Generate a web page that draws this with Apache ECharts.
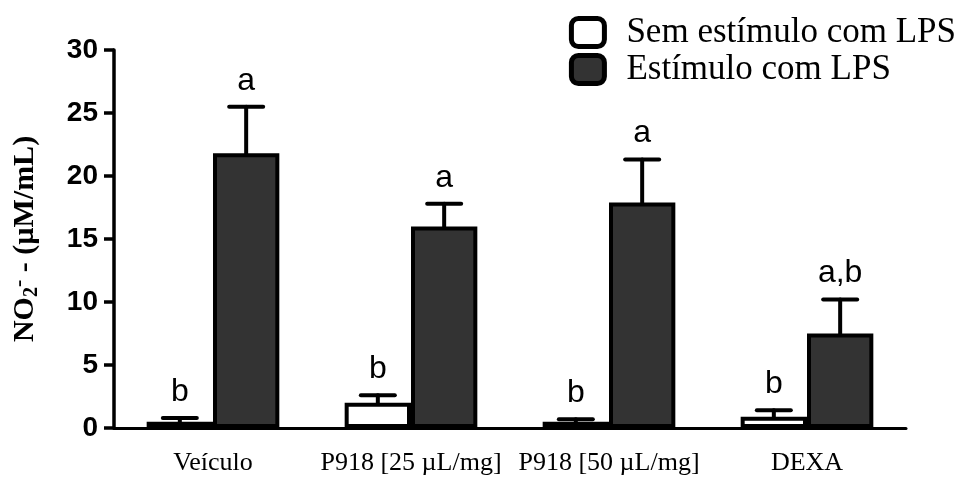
<!DOCTYPE html>
<html>
<head>
<meta charset="utf-8">
<script src="https://cdn.jsdelivr.net/npm/echarts@6/dist/echarts.min.js"></script>
<style>
  html, body { margin: 0; padding: 0; background: #fff; }
  #chart { width: 965px; height: 479px; }
</style>
</head>
<body>
<div id="chart"></div>
<script>
// dados
var categories = ['Veículo', 'P918 [25 µL/mg]', 'P918 [50 µL/mg]', 'DEXA']
var semLps = [0.5, 2.0, 0.5, 0.9]
var semLpsErr = [0.3, 0.6, 0.2, 0.5]
var semLpsLetters = ['b', 'b', 'b', 'b']
var comLps = [21.8, 16.0, 17.9, 7.5]
var comLpsErr = [3.7, 1.8, 3.4, 2.7]
var comLpsLetters = ['a', 'a', 'a', 'a,b']
var yTicks = [0, 5, 10, 15, 20, 25, 30]

var catGap = 0.33

function errorSeries (name, values, errs, letters, side) {
  return {
    name: name + '_err',
    type: 'custom',
    z: 10,
    silent: true,
    data: values.map(function (v, i) { return [i, v, v + errs[i], letters[i]] }),
    renderItem: function (params, api) {
      var band = api.size([1, 0])[0]
      var barW = band * (1 - catGap) / 2
      var base = api.coord([api.value(0), api.value(1)])
      var top = api.coord([api.value(0), api.value(2)])
      var x = base[0] + side * barW / 2
      var capHalf = 17
      var style = { stroke: '#000', lineWidth: 4, lineCap: 'round' }
      return {
        type: 'group',
        children: [
          { type: 'line', shape: { x1: x, y1: base[1], x2: x, y2: top[1] }, style: style },
          { type: 'line', shape: { x1: x - capHalf, y1: top[1], x2: x + capHalf, y2: top[1] }, style: style },
          {
            type: 'text',
            x: x,
            y: top[1] - 10,
            style: {
              text: api.value(3),
              fill: '#000',
              font: '32px "Liberation Sans", Arial, sans-serif',
              textAlign: 'center',
              textVerticalAlign: 'bottom'
            }
          }
        ]
      }
    }
  }
}

var myChart = echarts.init(document.getElementById('chart'))
var option = {
  animation: false,
  grid: { left: 114, right: 59, top: 50, bottom: 51, containLabel: false },
  legend: {
    orient: 'vertical',
    right: 4,
    top: 10,
    itemWidth: 33,
    itemHeight: 28,
    itemGap: 2,
    icon: 'roundRect',
    data: ['Sem estímulo com LPS', 'Estímulo com LPS'],
    itemStyle: { borderColor: '#000', borderWidth: 5 },
    textStyle: {
      fontFamily: '"Liberation Serif", "Times New Roman", serif',
      fontSize: 35,
      color: '#000',
      padding: [0, 0, 0, 17]
    }
  },
  xAxis: {
    type: 'category',
    data: categories,
    axisTick: { show: false },
    axisLine: { lineStyle: { color: '#000', width: 3 } },
    axisLabel: {
      interval: 0,
      margin: 22,
      color: '#000',
      fontSize: 26,
      fontFamily: '"Liberation Serif", "Times New Roman", serif'
    }
  },
  yAxis: {
    type: 'value',
    min: yTicks[0],
    max: yTicks[yTicks.length - 1],
    interval: 5,
    splitLine: { show: false },
    axisLine: { show: true, lineStyle: { color: '#000', width: 3.5 } },
    axisTick: { show: true, length: 10, lineStyle: { color: '#000', width: 3.5 } },
    axisLabel: {
      margin: 16,
      color: '#000',
      fontSize: 28,
      fontWeight: 'bold',
      fontFamily: '"Liberation Sans", Arial, sans-serif'
    },
    name: 'NO{sub|2}{sup|-} - (µM/mL)',
    nameLocation: 'middle',
    nameGap: 72,
    nameRotate: 90,
    nameTextStyle: {
      color: '#000',
      fontSize: 30,
      fontWeight: 'bold',
      fontFamily: '"Liberation Serif", "Times New Roman", serif',
      rich: {
        sub: { fontSize: 20, fontWeight: 'bold', fontFamily: '"Liberation Serif", serif', verticalAlign: 'bottom', padding: [12, 0, 0, 0] },
        sup: { fontSize: 22, fontWeight: 'bold', fontFamily: '"Liberation Serif", serif', verticalAlign: 'top', padding: [0, 0, 12, 0] }
      }
    }
  },
  series: [
    {
      name: 'Sem estímulo com LPS',
      type: 'bar',
      data: semLps,
      barGap: '0%',
      barCategoryGap: (catGap * 100) + '%',
      itemStyle: { color: '#ffffff', borderColor: '#000', borderWidth: 4 }
    },
    {
      name: 'Estímulo com LPS',
      type: 'bar',
      data: comLps,
      barGap: '0%',
      barCategoryGap: (catGap * 100) + '%',
      itemStyle: { color: '#333333', borderColor: '#000', borderWidth: 4 }
    },
    errorSeries('Sem estímulo com LPS', semLps, semLpsErr, semLpsLetters, -1),
    errorSeries('Estímulo com LPS', comLps, comLpsErr, comLpsLetters, 1)
  ]
}
myChart.setOption(option)
</script>
</body>
</html>
